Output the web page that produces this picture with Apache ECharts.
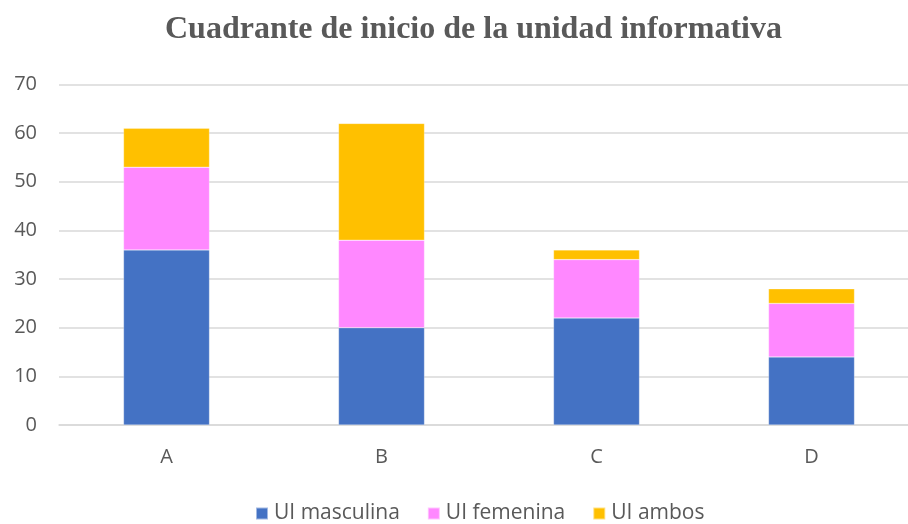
<!DOCTYPE html>
<html>
<head>
<meta charset="utf-8">
<script src="https://cdn.jsdelivr.net/npm/echarts@6/dist/echarts.min.js"></script>
<style>
  html, body { margin: 0; padding: 0; background: #fff; overflow: hidden; }
  #chart { width: 919px; height: 524px; }
</style>
</head>
<body>
<div id="chart"></div>
<script>
// datos del gráfico
const categories = ['A', 'B', 'C', 'D'];
const masculina = [36, 20, 22, 14];
const femenina = [17, 18, 12, 11];
const ambos = [8, 24, 2, 3];

const labelFont = '"Open Sans", "Noto Sans", sans-serif';

const chart = echarts.init(document.getElementById('chart'));

const makeSeries = (name, data, color) => ({
  name: name,
  type: 'bar',
  stack: 'total',
  data: data,
  barWidth: '40%',
  itemStyle: { color: color, borderColor: 'rgba(255,255,255,0.5)', borderWidth: 0.5 },
  emphasis: { disabled: true }
});

chart.setOption({
  animation: false,
  title: {
    text: 'Cuadrante de inicio de la unidad informativa',
    left: 160,
    top: 9,
    textStyle: {
      fontFamily: '"Liberation Serif", "DejaVu Serif", serif',
      fontWeight: 'bold',
      fontSize: 32,
      color: '#595959'
    }
  },
  legend: {
    bottom: -5,
    left: 250,
    itemWidth: 12,
    itemHeight: 12,
    itemGap: 27,
    icon: 'rect',
    textStyle: { fontFamily: labelFont, fontSize: 21, color: '#595959', padding: [0, 0, 0, 1] },
    data: ['UI masculina', 'UI femenina', 'UI ambos']
  },
  grid: {
    left: 59,
    top: 84.5,
    right: 0,
    height: 340.5,
    containLabel: false
  },
  xAxis: {
    type: 'category',
    data: categories,
    axisLine: { lineStyle: { color: '#D9D9D9', width: 1.5 } },
    axisTick: { show: false },
    axisLabel: { fontFamily: labelFont, fontSize: 20, color: '#595959', margin: 22 }
  },
  yAxis: {
    type: 'value',
    min: 0,
    max: 70,
    interval: 10,
    axisLine: { show: false },
    axisTick: { show: false },
    axisLabel: { fontFamily: labelFont, fontSize: 20, color: '#595959', margin: 22 },
    splitLine: { lineStyle: { color: '#D9D9D9', width: 1.5 } }
  },
  series: [
    makeSeries('UI masculina', masculina, '#4472C4'),
    makeSeries('UI femenina', femenina, '#FF88FF'),
    makeSeries('UI ambos', ambos, '#FFC000')
  ]
});
</script>
</body>
</html>
